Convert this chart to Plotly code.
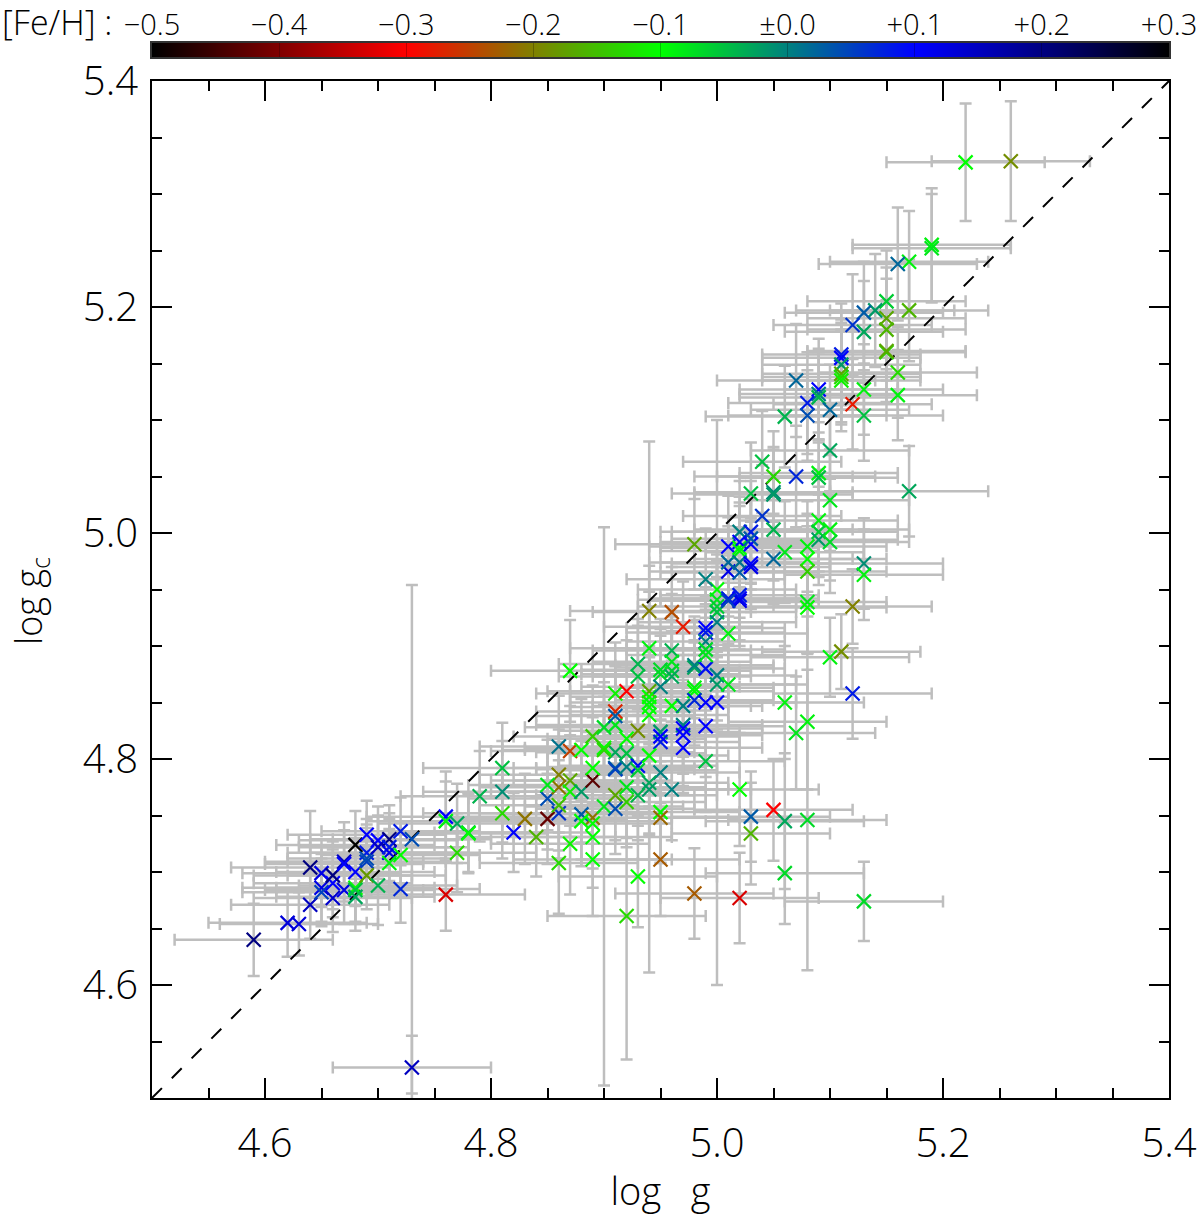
import plotly.graph_objects as go

# surface gravity from spectroscopy
log_g = [
 4.59,4.62,4.63,4.64,4.64,4.65,4.65,4.65,4.66,4.66,
 4.66,4.67,4.67,4.67,4.68,4.68,4.68,4.68,4.68,4.69,
 4.69,4.69,4.69,4.69,4.70,4.70,4.70,4.71,4.71,4.71,
 4.71,4.72,4.72,4.72,4.73,4.73,4.76,4.76,4.76,4.77,
 4.78,4.78,4.77,4.79,4.81,4.81,4.81,4.82,4.83,4.84,
 4.85,4.86,4.85,4.86,4.86,4.85,4.86,4.86,4.87,4.87,
 4.87,4.88,4.88,4.89,4.89,4.89,4.88,4.89,4.89,4.89,
 4.90,4.91,4.91,4.92,4.92,4.93,4.92,4.86,4.87,4.88,
 4.90,4.91,4.92,4.91,4.91,4.92,4.93,4.93,4.89,4.90,
 4.90,4.91,4.91,4.91,4.91,4.92,4.92,4.93,4.93,4.93,
 4.94,4.94,4.94,4.94,4.94,4.94,4.95,4.95,4.95,4.94,
 4.95,4.94,4.94,4.93,4.96,4.95,4.95,4.95,4.95,4.96,
 4.96,4.96,4.96,4.95,4.96,4.97,4.97,4.97,4.97,4.97,
 4.98,4.98,4.98,4.98,4.98,4.99,5.00,4.99,4.99,4.99,
 5.00,5.00,5.01,5.01,4.97,4.87,5.02,5.03,5.05,5.03,
 5.06,5.08,5.06,5.13,4.98,5.02,4.95,5.00,5.00,5.00,
 5.00,5.00,4.99,4.99,4.99,4.99,4.99,4.99,5.01,5.01,
 5.01,5.02,5.02,5.02,5.02,5.02,5.02,5.03,5.03,5.03,
 5.03,5.03,5.01,5.02,5.02,5.02,5.01,5.04,5.05,5.05,
 5.06,5.08,5.08,5.08,5.08,5.08,5.09,5.09,5.09,5.10,
 5.10,5.13,5.13,5.12,5.11,5.10,5.12,5.06,5.08,5.07,
 5.03,5.05,5.05,5.10,4.98,4.94,4.96,5.19,5.19,5.17,
 5.16,5.15,5.17,5.14,5.13,5.12,5.13,5.15,5.15,5.15,
 5.15,5.16,5.16,5.11,5.11,5.11,5.11,5.11,5.11,5.07,
 5.09,5.09,5.09,5.13,5.12,5.08,5.08,5.10,5.13,5.06,
 5.10,5.04,5.05,5.07,5.09,5.09,5.17,5.22,5.26,
]

# corrected surface gravity
log_gc = [
 4.640,4.655,4.654,4.671,4.704,4.686,4.682,4.699,4.677,4.690,
 4.697,4.709,4.707,4.684,4.724,4.700,4.686,4.678,4.684,4.733,
 4.717,4.709,4.712,4.697,4.728,4.722,4.688,4.729,4.722,4.717,
 4.708,4.736,4.715,4.685,4.729,4.527,4.680,4.749,4.745,4.743,
 4.735,4.734,4.717,4.767,4.792,4.771,4.752,4.735,4.747,4.731,
 4.747,4.752,4.765,4.786,4.775,4.777,4.759,4.708,4.725,4.781,
 4.771,4.771,4.751,4.781,4.792,4.748,4.745,4.743,4.731,4.711,
 4.758,4.768,4.756,4.775,4.762,4.696,4.661,4.811,4.807,4.808,
 4.810,4.806,4.805,4.792,4.791,4.793,4.794,4.790,4.820,4.828,
 4.808,4.830,4.842,4.838,4.858,4.860,4.818,4.884,4.873,4.825,
 4.898,4.860,4.855,4.850,4.846,4.839,4.824,4.815,4.820,4.803,
 4.788,4.779,4.773,4.768,4.773,4.753,4.748,4.879,4.875,4.878,
 4.896,4.886,4.873,4.864,4.847,4.847,4.830,4.827,4.821,4.810,
 4.881,4.883,4.863,4.860,4.852,4.850,4.850,4.880,4.829,4.798,
 4.874,4.866,4.866,4.911,4.917,4.878,4.773,4.749,4.755,4.734,
 4.745,4.746,4.699,4.674,4.681,4.677,4.711,4.950,4.941,4.935,
 4.930,4.921,4.959,4.916,4.912,4.904,4.897,4.892,4.988,4.966,
 4.974,5.001,4.987,4.992,4.984,4.974,4.965,5.001,4.990,4.995,
 4.973,4.970,4.942,4.942,4.945,4.940,4.940,5.015,5.003,4.977,
 4.983,4.988,4.977,4.966,4.939,4.934,5.011,5.001,4.994,5.003,
 4.992,4.973,4.963,4.935,4.895,4.890,4.858,4.850,4.833,4.823,
 5.035,5.036,5.034,5.029,4.990,4.931,4.930,5.255,5.252,5.240,
 5.238,5.205,5.197,5.197,5.195,5.184,5.178,5.190,5.180,5.160,
 5.161,5.142,5.122,5.158,5.155,5.149,5.141,5.138,5.135,5.135,
 5.127,5.123,5.120,5.127,5.114,5.115,5.104,5.109,5.104,5.103,
 5.073,5.063,5.050,5.050,5.053,5.049,5.037,5.328,5.329,
]

# metallicity
fe_h = [
  .20, .13, .13, .15, .20, .12, .05, .12, .14, .10,
  .20, .15, .10, .12, .30, .10,-.10,-.03,-.05, .10,
  .08, .05, .04,-.18, .10, .15,-.04, .20, .08, .12,
 -.09, .08,-.10, .07, .04, .15,-.33, .10,-.09,-.03,
 -.06,-.10,-.13,-.04,-.05,-.01,-.13, .10,-.21,-.16,
 -.42, .06, .04,-.20,-.21,-.08,-.15,-.13,-.11,-.17,
 -.11,-.02, .03,-.43,-.10,-.21,-.10,-.10,-.10,-.10,
 -.08,-.17, .04,-.08,-.14,-.10,-.13, .01,-.25,-.10,
 -.10,-.03,-.05, .02, .05, .00, .09,-.06,-.14,-.07,
 -.13,-.08,-.27, .03,-.11,-.30,-.10,-.04,-.05,-.19,
 -.09,-.17,-.10,-.09,-.10,-.10,-.02, .08, .10,-.10,
  .00,-.03,-.02,-.04, .00,-.10,-.22,-.07,-.07,-.06,
 -.04,-.08,-.03, .00,-.10, .00, .00, .10, .10, .10,
 -.03, .00,-.09,-.10, .07, .10, .10, .09, .10,-.05,
  .00,-.02,-.08,-.09,-.28,-.10,-.10, .03,-.30,-.16,
 -.03,-.07,-.07,-.07,-.23,-.33,-.23,-.10,-.08,-.06,
 -.05, .00, .00, .10, .08, .00,-.07,-.08, .10, .12,
  .02, .00,-.10, .10,-.09, .01, .03, .08, .10, .03,
  .10, .12, .08, .10, .08, .12, .05, .06,-.04, .02,
 -.08,-.09,-.10,-.14,-.08,-.10,-.09,-.06,-.02,-.09,
 -.07,-.01,-.09,-.20,-.19,-.09, .08,-.09,-.09,-.08,
 -.05,-.01,-.02,-.08,-.17,-.20,-.24,-.09,-.08,-.09,
  .02,-.06,-.16,-.02, .03, .06,-.03,-.17,-.16,-.13,
 -.17,-.13,-.09, .08, .10,-.02,-.17,-.13,-.11, .02,
  .10, .00,-.04,-.09,-.28, .08, .04, .02,-.05,-.04,
 -.03,-.05,-.13, .07,-.09,-.05,-.03,-.10,-.19,
]

# uncertainty of the corrected gravity
log_gc_err = [
 .032,.030,.028,.030,.050,.030,.030,.030,.030,.030,
 .030,.035,.030,.030,.030,.030,.030,.030,.030,.030,
 .030,.030,.030,.030,.030,.028,.035,.030,.030,.030,
 .030,.030,.030,.030,.225,.028,.032,.040,.035,.035,
 .035,.035,.035,.040,.040,.045,.040,.035,.040,.035,
 .040,.040,.045,.040,.040,.040,.040,.045,.045,.040,
 .040,.045,.040,.040,.045,.040,.040,.040,.045,.050,
 .247,.040,.040,.045,.040,.045,.127,.045,.040,.045,
 .045,.040,.040,.045,.040,.040,.045,.040,.045,.040,
 .040,.045,.040,.045,.045,.045,.040,.040,.045,.040,
 .050,.040,.040,.040,.235,.040,.040,.045,.040,.045,
 .040,.045,.040,.040,.045,.045,.040,.045,.040,.045,
 .050,.040,.040,.045,.040,.045,.040,.040,.045,.040,
 .045,.040,.040,.045,.040,.040,.250,.045,.045,.045,
 .040,.040,.045,.045,.040,.045,.050,.040,.045,.045,
 .060,.133,.045,.035,.040,.040,.050,.045,.040,.040,
 .040,.040,.045,.040,.040,.040,.040,.040,.045,.040,
 .040,.045,.040,.040,.040,.040,.040,.045,.040,.040,
 .040,.040,.040,.045,.040,.040,.040,.045,.045,.040,
 .045,.040,.040,.040,.045,.040,.045,.040,.040,.045,
 .045,.040,.040,.033,.033,.035,.040,.050,.060,.050,
 .045,.040,.040,.045,.040,.040,.040,.050,.048,.045,
 .050,.045,.045,.050,.045,.045,.045,.045,.045,.045,
 .045,.040,.040,.045,.040,.040,.045,.040,.045,.050,
 .045,.040,.040,.040,.040,.045,.040,.040,.040,.045,
 .040,.045,.040,.045,.045,.040,.040,.052,.053,
]

log_g_err = 0.07

one_to_one = [4.5, 5.4]

feh_ticks = [-0.5, -0.4, -0.3, -0.2, -0.1, 0.0, 0.1, 0.2, 0.3]
feh_labels = ["−0.5", "−0.4", "−0.3", "−0.2", "−0.1", "±0.0", "+0.1", "+0.2", "+0.3"]
feh_colors = ["#000000", "#800000", "#ff0000", "#808000", "#00ff00",
              "#008080", "#0000ff", "#000080", "#000000"]
colorscale = [[i / (len(feh_colors) - 1), c] for i, c in enumerate(feh_colors)]

FONT = "Open Sans"
BLACK = "#000000"
GREY = "#bebebe"

fig = go.Figure()

fig.add_trace(go.Scatter(
    x=log_g, y=log_gc, mode="markers",
    marker=dict(size=1, opacity=0),
    error_x=dict(type="constant", value=log_g_err, color=GREY, thickness=2.5, width=6),
    error_y=dict(type="data", array=log_gc_err, color=GREY, thickness=2.5, width=6),
    showlegend=False, hoverinfo="skip",
))

fig.add_trace(go.Scatter(
    x=one_to_one, y=one_to_one, mode="lines",
    line=dict(color=BLACK, width=2, dash="14px,14px"),
    showlegend=False, hoverinfo="skip",
))

fig.add_trace(go.Scatter(
    x=log_g, y=log_gc, mode="markers",
    marker=dict(
        symbol="x-thin", size=14,
        color=fe_h, colorscale=colorscale, cmin=-0.5, cmax=0.3,
        line=dict(width=2.2, color=fe_h, colorscale=colorscale, cmin=-0.5, cmax=0.3),
    ),
    showlegend=False,
))

fig.add_trace(go.Heatmap(
    x=feh_ticks, y=[0, 1], z=[feh_ticks, feh_ticks],
    colorscale=colorscale, zmin=-0.5, zmax=0.3, zsmooth="best",
    showscale=False, xaxis="x2", yaxis="y2", hoverinfo="skip",
))

axis = dict(
    range=[4.5, 5.4], dtick=0.2, tick0=4.6, ticks="inside", ticklen=20, tickwidth=2,
    tickcolor=BLACK, showline=True, linewidth=2, linecolor=BLACK, mirror="ticks",
    showgrid=False, zeroline=False,
    tickfont=dict(family=FONT, size=40, color=BLACK, weight=300),
    minor=dict(dtick=0.05, tick0=4.5, ticks="inside", ticklen=10, tickwidth=2,
               tickcolor=BLACK, showgrid=False),
    tickformat=".1f",
)

TOP, BOTTOM, PLOT_TOP, BAR_BOTTOM = 43, 1098, 81, 57
H = BOTTOM - TOP

fig.update_layout(
    width=1200, height=1216,
    margin=dict(l=152, r=31, t=TOP, b=1216 - BOTTOM, autoexpand=False),
    paper_bgcolor="white", plot_bgcolor="white",
    xaxis=dict(axis, ticklabelstandoff=9,
               title=dict(text="log\u00a0\u00a0\u00a0g", standoff=18,
                          font=dict(family=FONT, size=38, color=BLACK, weight=300))),
    yaxis=dict(axis, domain=[0, (BOTTOM - PLOT_TOP) / H], ticklabelstandoff=4),
    xaxis2=dict(
        anchor="y2", side="top", range=[-0.5, 0.3],
        tickmode="array", tickvals=feh_ticks, ticktext=feh_labels,
        ticks="inside", ticklen=14, tickwidth=1, tickcolor="rgba(0,0,0,0.25)",
        showline=True, linewidth=1.5, linecolor="#333333", mirror=True,
        showgrid=False, zeroline=False, ticklabelstandoff=-5,
        tickfont=dict(family=FONT, size=29, color=BLACK, weight=300),
    ),
    yaxis2=dict(
        anchor="x2", domain=[(BOTTOM - BAR_BOTTOM) / H, 1], range=[0, 1],
        showticklabels=False, ticks="", showgrid=False, zeroline=False,
        showline=True, linewidth=1.5, linecolor="#333333", mirror=True,
    ),
    annotations=[
        dict(
            text="[Fe/H] :", xref="paper", yref="paper",
            x=(0 - 152) / 1017, y=(BOTTOM - 22) / H,
            xanchor="left", yanchor="middle", showarrow=False,
            font=dict(family=FONT, size=34, color=BLACK, weight=300),
        ),
        dict(
            text="log\u00a0g<sub>c</sub>", xref="paper", yref="paper",
            x=(30 - 152) / 1017, y=(BOTTOM - 601) / H, textangle=-90,
            xanchor="center", yanchor="middle", showarrow=False,
            font=dict(family=FONT, size=36, color=BLACK, weight=300),
        ),
    ],
)

fig.write_html("out.html", config={"displayModeBar": False},
               post_script="document.body.style.margin='0';")
